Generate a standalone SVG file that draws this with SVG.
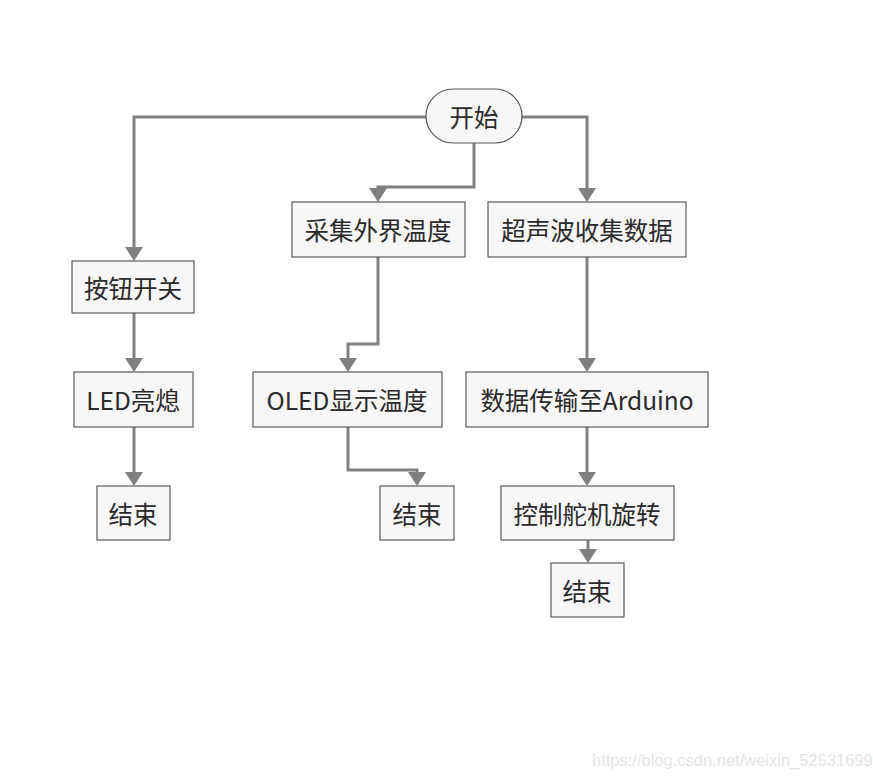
<svg xmlns="http://www.w3.org/2000/svg" width="873" height="778" viewBox="0 0 873 778">
<defs>
<style>
.box{fill:#f7f7f7;stroke:#5a5a5a;stroke-width:1.2}
.lbl{font-family:"Noto Sans CJK SC","Noto Sans",sans-serif;font-size:24.5px;fill:#2a2a2a;text-anchor:middle;dominant-baseline:central}
.ln{fill:none;stroke:#808080;stroke-width:3}
.wm{font-family:"Liberation Sans",Arial,sans-serif;font-size:16.5px;fill:#e4e4e4}
</style>
</defs>
<rect width="873" height="778" fill="#ffffff"/>
<g id="connectors">
<path class="ln" d="M426,117 H134 V247"/>
<path class="ln" d="M522,117 H587 V188"/>
<path class="ln" d="M474,143 V187 H378 V188"/>
<path d="M369,188 L387,188 L378,202 Z" fill="#808080"/>
<path d="M125,247 L143,247 L134,261 Z" fill="#808080"/>
<path d="M578,188 L596,188 L587,202 Z" fill="#808080"/>
<path class="ln" d="M134,313 V358"/>
<path d="M125,358 L143,358 L134,372 Z" fill="#808080"/>
<path class="ln" d="M134,427 V472"/>
<path d="M125,472 L143,472 L134,486 Z" fill="#808080"/>
<path class="ln" d="M378,257 V344 H348 V358"/>
<path d="M339,358 L357,358 L348,372 Z" fill="#808080"/>
<path class="ln" d="M348,427 V470 H417 V472"/>
<path d="M408,472 L426,472 L417,486 Z" fill="#808080"/>
<path class="ln" d="M587,257 V358"/>
<path d="M578,358 L596,358 L587,372 Z" fill="#808080"/>
<path class="ln" d="M587,427 V472"/>
<path d="M578,472 L596,472 L587,486 Z" fill="#808080"/>
<path class="ln" d="M588,540 V549"/>
<path d="M579,549 L597,549 L588,563 Z" fill="#808080"/>
</g>
<g id="start"><rect class="box" x="426" y="89" width="96" height="54" rx="27"/><text class="lbl" x="474" y="116">开始</text></g>
<g id="button"><rect class="box" x="72" y="261" width="122" height="52"/><text class="lbl" x="133" y="287">按钮开关</text></g>
<g id="led"><rect class="box" x="74" y="372" width="119" height="55"/><text class="lbl" x="133" y="399">LED亮熄</text></g>
<g id="end1"><rect class="box" x="97" y="486" width="73" height="54"/><text class="lbl" x="133" y="513">结束</text></g>
<g id="temp"><rect class="box" x="292" y="202" width="173" height="55"/><text class="lbl" x="378" y="229">采集外界温度</text></g>
<g id="oled"><rect class="box" x="253" y="372" width="189" height="55"/><text class="lbl" x="347" y="399">OLED显示温度</text></g>
<g id="end2"><rect class="box" x="380" y="486" width="74" height="54"/><text class="lbl" x="417" y="513">结束</text></g>
<g id="ultra"><rect class="box" x="488" y="202" width="198" height="55"/><text class="lbl" x="587" y="229">超声波收集数据</text></g>
<g id="send"><rect class="box" x="466" y="372" width="242" height="55"/><text class="lbl" x="587" y="399">数据传输至Arduino</text></g>
<g id="servo"><rect class="box" x="501" y="486" width="173" height="54"/><text class="lbl" x="587" y="513">控制舵机旋转</text></g>
<g id="end3"><rect class="box" x="551" y="563" width="73" height="54"/><text class="lbl" x="587" y="590">结束</text></g>
<text class="wm" x="592" y="766">https://blog.csdn.net/weixin_52531699</text>
</svg>
